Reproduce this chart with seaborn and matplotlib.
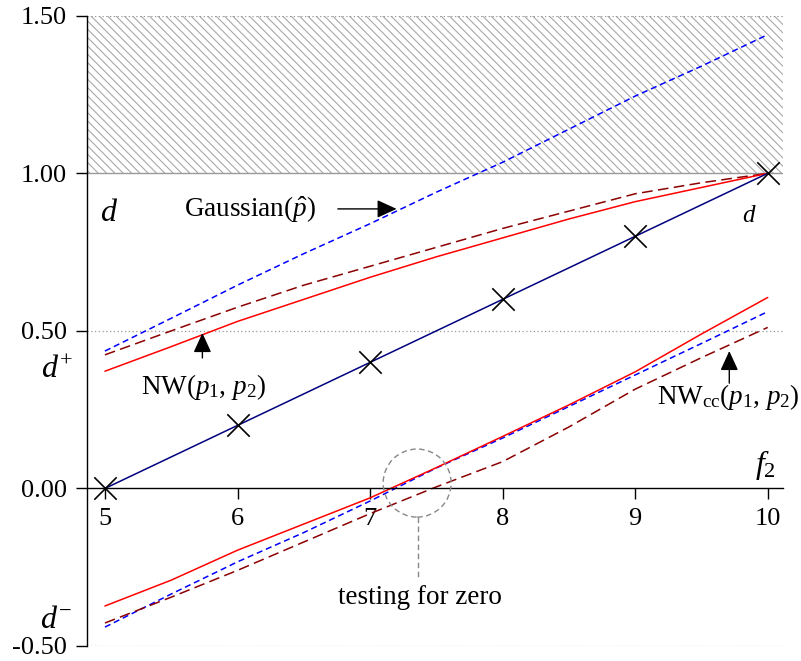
import numpy as np
import pandas as pd
import matplotlib
matplotlib.use('Agg')
import matplotlib.pyplot as plt
from matplotlib.patches import Ellipse
from matplotlib.ticker import FormatStrFormatter
import seaborn as sns

# data
f2 = [5, 5.5, 6, 6.5, 7, 7.5, 8, 8.5, 9, 9.5, 10]
d_x = [5, 6, 7, 8, 9, 10]
d_vals = [0.0, 0.2, 0.4, 0.6, 0.8, 1.0]

gauss_upper = [0.436, 0.54, 0.645, 0.745, 0.84, 0.94, 1.035, 1.14, 1.245, 1.34, 1.44]
nw_upper = [0.372, 0.45, 0.53, 0.60, 0.67, 0.735, 0.795, 0.855, 0.91, 0.955, 1.0]
nwcc_upper = [0.424, 0.50, 0.575, 0.645, 0.705, 0.765, 0.825, 0.88, 0.935, 0.97, 1.0]

gauss_lower = [-0.44, -0.335, -0.233, -0.14, -0.04, 0.065, 0.16, 0.26, 0.36, 0.46, 0.561]
nw_lower = [-0.373, -0.291, -0.196, -0.113, -0.03, 0.066, 0.165, 0.265, 0.37, 0.49, 0.606]
nwcc_lower = [-0.427, -0.345, -0.26, -0.17, -0.08, 0.005, 0.085, 0.195, 0.315, 0.415, 0.511]

y_ticks = [-0.5, 0.0, 0.5, 1.0, 1.5]
x_ticks = [5, 6, 7, 8, 9, 10]

sns.set_style('ticks')
plt.rcParams['font.family'] = ['Liberation Serif', 'DejaVu Serif']
plt.rcParams['mathtext.fontset'] = 'custom'
plt.rcParams['mathtext.rm'] = 'Liberation Serif'
plt.rcParams['mathtext.it'] = 'Liberation Serif:italic'
plt.rcParams['axes.unicode_minus'] = False
plt.rcParams['hatch.linewidth'] = 0.8
plt.rcParams['text.color'] = 'black'
plt.rcParams['xtick.color'] = 'black'
plt.rcParams['ytick.color'] = 'black'
plt.rcParams['axes.labelcolor'] = 'black'

fig = plt.figure(figsize=(8.01, 6.61), dpi=100)
ax = fig.add_axes([0.1082, 0.0227, 0.8693, 0.9535])

# infeasible region above 1
ax.axhspan(1.0, 1.5, facecolor='white', edgecolor='#a8a8a8', hatch='\\\\\\\\', linewidth=0, zorder=0)
ax.axhline(1.0, color='#999999', lw=1.0, zorder=1)
for yv in [-0.5, 0.5, 1.5]:
    ax.axhline(yv, color='#999999', lw=0.9, ls=(0, (1, 2)), zorder=1)

blue = '#0000ff'
red = '#ff0000'
dred = '#8b0000'

sns.lineplot(x=f2, y=gauss_upper, color=blue, lw=1.1, linestyle=(0, (4, 2.5)), ax=ax)
sns.lineplot(x=f2, y=nwcc_upper, color=dred, lw=1.1, linestyle=(0, (7, 3.5)), ax=ax)
sns.lineplot(x=f2, y=nw_upper, color=red, lw=1.1, ax=ax)

sns.lineplot(x=f2, y=gauss_lower, color=blue, lw=1.1, linestyle=(0, (4, 2.5)), ax=ax)
sns.lineplot(x=f2, y=nwcc_lower, color=dred, lw=1.1, linestyle=(0, (7, 3.5)), ax=ax)
sns.lineplot(x=f2, y=nw_lower, color=red, lw=1.1, ax=ax)

sns.lineplot(x=d_x, y=d_vals, color='#000080', lw=1.1, ax=ax)
sns.scatterplot(x=d_x, y=d_vals, marker='x', s=260, color='black', linewidth=1.2, ax=ax, zorder=5, clip_on=False)

ax.set_xlim(4.862, 10.115)
ax.set_ylim(-0.5, 1.5)
ax.set_xticks(x_ticks)
ax.set_yticks(y_ticks)
ax.yaxis.set_major_formatter(FormatStrFormatter('%.2f'))
ax.spines['top'].set_visible(False)
ax.spines['right'].set_visible(False)
ax.spines['bottom'].set_position(('data', 0))
for s in ['left', 'bottom']:
    ax.spines[s].set_linewidth(1.0)
    ax.spines[s].set_color('black')
ax.tick_params(axis='both', direction='out', length=8, width=1.0, labelsize=19, pad=6,
               color='black', labelcolor='black')
ax.set_xlabel('')
ax.set_ylabel('')

# labels
ax.text(5.03, 0.874, '$d$', fontsize=23, ha='center', va='center')
ax.text(4.64, 0.375, '$d^{+}$', fontsize=23, ha='center', va='center', clip_on=False)
ax.text(4.63, -0.418, '$d^{-}$', fontsize=23, ha='center', va='center', clip_on=False)
ax.text(9.985, 0.075, '$f_2$', fontsize=23, ha='center', va='center')
ax.text(9.86, 0.865, '$d$', fontsize=18, ha='center', va='center')

arrow = dict(arrowstyle='-|>,head_length=1.2,head_width=0.55', color='black', lw=1.0, shrinkA=0, shrinkB=0)
ax.text(6.09, 0.885, r'Gaussian($\hat{p}$)', fontsize=19.5, ha='center', va='center')
ax.annotate('', xy=(7.20, 0.887), xytext=(6.757, 0.887), arrowprops=arrow)
ax.text(5.74, 0.321, r'NW($p_1$, $p_2$)', fontsize=19.5, ha='center', va='center')
ax.annotate('', xy=(5.735, 0.493), xytext=(5.735, 0.414), arrowprops=arrow)
ax.text(9.70, 0.291, r'NW$_{\rm cc}$($p_1$, $p_2$)', fontsize=19.5, ha='center', va='center')
ax.annotate('', xy=(9.71, 0.436), xytext=(9.71, 0.334), arrowprops=arrow)

# testing for zero
ax.add_patch(Ellipse((7.355, 0.017), 0.513, 0.216, fill=False, edgecolor='#888888', lw=1.0, ls=(0, (4, 2.5)), zorder=6))
ax.plot([7.36, 7.36], [-0.091, -0.284], color='#888888', lw=1.0, ls=(0, (4, 2.5)))
ax.text(7.375, -0.345, 'testing for zero', fontsize=19.5, ha='center', va='center')

fig.savefig('out.png', dpi=100)
